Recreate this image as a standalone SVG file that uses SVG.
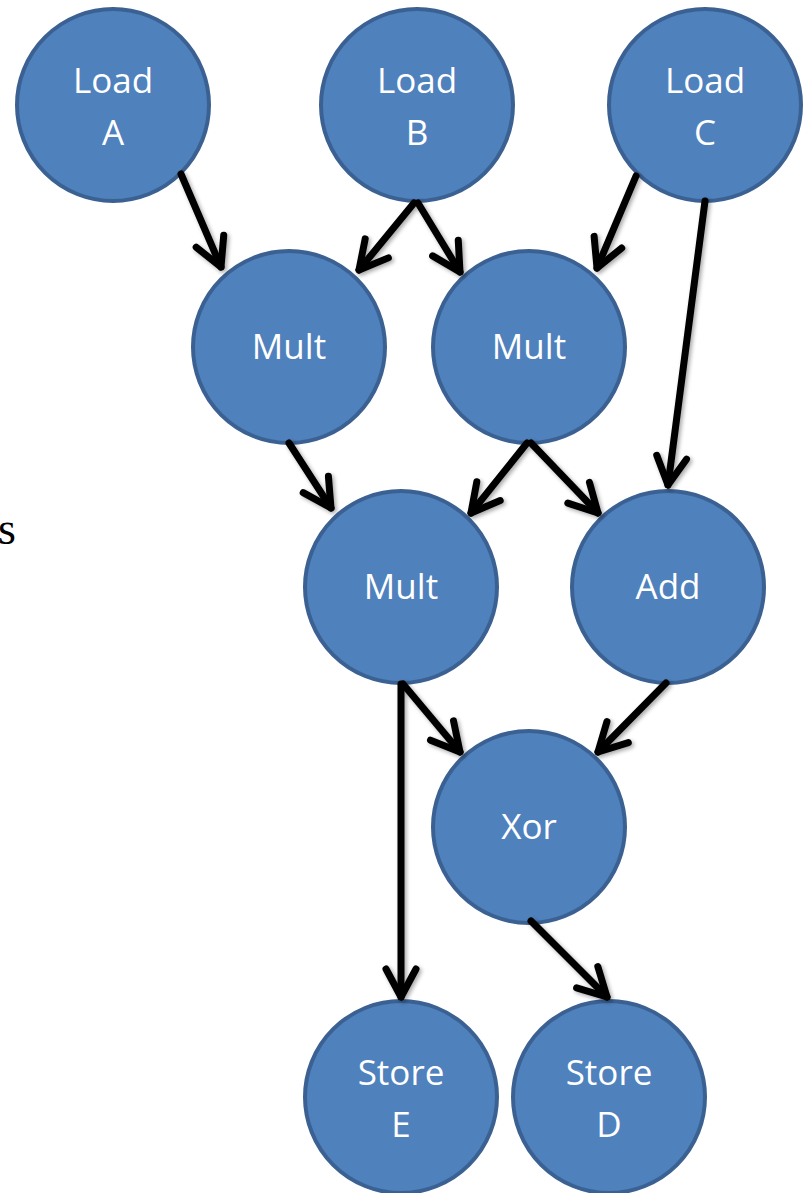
<svg xmlns="http://www.w3.org/2000/svg" width="812" height="1193" viewBox="0 0 812 1193">
<style>
.node{fill:#4f81bd;stroke:#3b6192;stroke-width:4}
.lbl{fill:#ffffff;font-family:"Open Sans","Liberation Sans",sans-serif;font-size:35px;text-anchor:middle}
.edge{fill:none;stroke:#000;stroke-width:7;stroke-linecap:round;marker-end:url(#arr)}
.side{font-family:"Liberation Serif",serif;font-size:46px;fill:#000}
</style>
<defs>
<marker id="arr" markerUnits="userSpaceOnUse" viewBox="-40 -25 50 50" markerWidth="50" markerHeight="50" refX="0" refY="0" orient="auto" overflow="visible">
<path d="M -28 -15 L 0 0 L -28 15" fill="none" stroke="#000" stroke-width="7" stroke-linecap="round" stroke-linejoin="round"/>
</marker>
<filter id="sh" x="-20%" y="-20%" width="140%" height="140%">
<feGaussianBlur in="SourceAlpha" stdDeviation="2"/>
<feOffset dx="2" dy="2" result="b"/>
<feComponentTransfer><feFuncA type="linear" slope="0.35"/></feComponentTransfer>
<feMerge><feMergeNode/><feMergeNode in="SourceGraphic"/></feMerge>
</filter>
</defs>
<text class="side" x="-2" y="544">s</text>
<g id="nodes">
<g id="loadA"><circle class="node" cx="113" cy="105" r="96"/><text class="lbl" x="113" y="93">Load</text><text class="lbl" x="113" y="145">A</text></g>
<g id="loadB"><circle class="node" cx="417" cy="105" r="96"/><text class="lbl" x="417" y="93">Load</text><text class="lbl" x="417" y="145">B</text></g>
<g id="loadC"><circle class="node" cx="705" cy="105" r="96"/><text class="lbl" x="705" y="93">Load</text><text class="lbl" x="705" y="145">C</text></g>
<g id="mult1"><circle class="node" cx="289" cy="347" r="96"/><text class="lbl" x="289" y="359">Mult</text></g>
<g id="mult2"><circle class="node" cx="529" cy="347" r="96"/><text class="lbl" x="529" y="359">Mult</text></g>
<g id="mult3"><circle class="node" cx="401" cy="587" r="96"/><text class="lbl" x="401" y="599">Mult</text></g>
<g id="add"><circle class="node" cx="668" cy="587" r="96"/><text class="lbl" x="668" y="599">Add</text></g>
<g id="xor"><circle class="node" cx="529" cy="827" r="96"/><text class="lbl" x="529" y="839">Xor</text></g>
<g id="storeE"><circle class="node" cx="401" cy="1097" r="96"/><text class="lbl" x="401" y="1085">Store</text><text class="lbl" x="401" y="1137">E</text></g>
<g id="storeD"><circle class="node" cx="609" cy="1097" r="96"/><text class="lbl" x="609" y="1085">Store</text><text class="lbl" x="609" y="1137">D</text></g>
</g>
<g id="connectors" filter="url(#sh)">
<path class="edge" d="M 181 174 L 221 267"/>
<path class="edge" d="M 414 203 L 359 270"/>
<path class="edge" d="M 418 203 L 460 272"/>
<path class="edge" d="M 636 176 L 597 268"/>
<path class="edge" d="M 705 201 L 668 485"/>
<path class="edge" d="M 289 443 L 331 508"/>
<path class="edge" d="M 527 443 L 471 513"/>
<path class="edge" d="M 531 443 L 598 513"/>
<path class="edge" d="M 401 684 L 401 997"/>
<path class="edge" d="M 403 684 L 460 752"/>
<path class="edge" d="M 666 683 L 598 752"/>
<path class="edge" d="M 531 921 L 607 997"/>
</g>
</svg>
